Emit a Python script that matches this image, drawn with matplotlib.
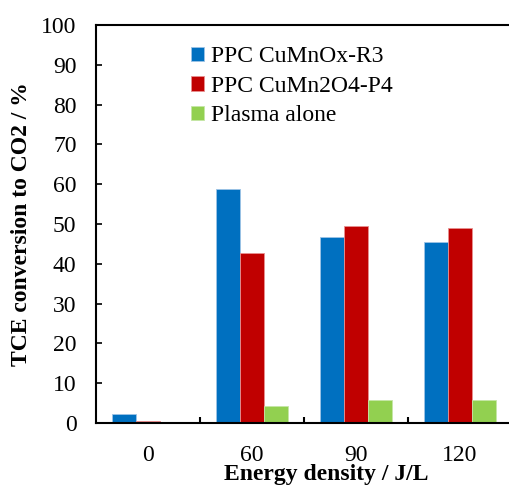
import matplotlib
matplotlib.use('Agg')
import matplotlib.pyplot as plt
import numpy as np

categories = ['0', '60', '90', '120']
series_names = ['PPC CuMnOx-R3', 'PPC CuMn2O4-P4', 'Plasma alone']
ppc_r3 = [2.2, 58.7, 46.8, 45.6]
ppc_p4 = [0.6, 42.7, 49.5, 49.1]
plasma = [0.0, 4.2, 5.8, 5.8]
colors = ['#0070C0', '#C00000', '#92D050']
edges = ['#9DC3E6', '#E89090', '#C5E6A6']
y_ticks = [0, 10, 20, 30, 40, 50, 60, 70, 80, 90, 100]

plt.rcParams['font.family'] = ['Liberation Serif', 'DejaVu Serif']

fig = plt.figure(figsize=(5.1, 4.87), dpi=100)
ax = fig.add_axes([96 / 510, 1 - 423 / 487, 416 / 510, 398 / 487])

x = np.arange(len(categories))
w = 0.23
offsets = [-w, 0, w]
for vals, name, c, ec, off in zip([ppc_r3, ppc_p4, plasma], series_names, colors, edges, offsets):
    ax.bar(x + off, vals, width=w, color=c, edgecolor=ec, linewidth=0.6, label=name)

ax.set_xlim(-0.5, 3.5)
ax.set_ylim(0, 100)
ax.set_yticks(y_ticks)
ax.set_xticks(x)
ax.set_xticklabels(categories)
ax.set_xticks([0.5, 1.5, 2.5], minor=True)
ax.tick_params(axis='x', which='major', length=0, pad=16, labelsize=17)
ax.tick_params(axis='x', which='minor', direction='in', length=4, width=1.5)
ax.tick_params(axis='y', direction='in', length=4, width=1.2, pad=14, labelsize=17)

for s in ax.spines.values():
    s.set_linewidth(1.5)

ax.set_ylabel('TCE conversion to CO2 / %', fontsize=17, fontweight='bold', va='center')
ax.yaxis.set_label_coords(-0.18, 0.5)
ax.set_xlabel('Energy density / J/L', fontsize=17, fontweight='bold', va='center')
ax.xaxis.set_label_coords(0.553, -0.13)

ax.legend(loc='upper left', bbox_to_anchor=(0.178, 1.0), frameon=False, fontsize=17,
          handlelength=0.55, handleheight=0.55, handletextpad=0.3, labelspacing=0.36)

fig.savefig('out.png', dpi=100)
